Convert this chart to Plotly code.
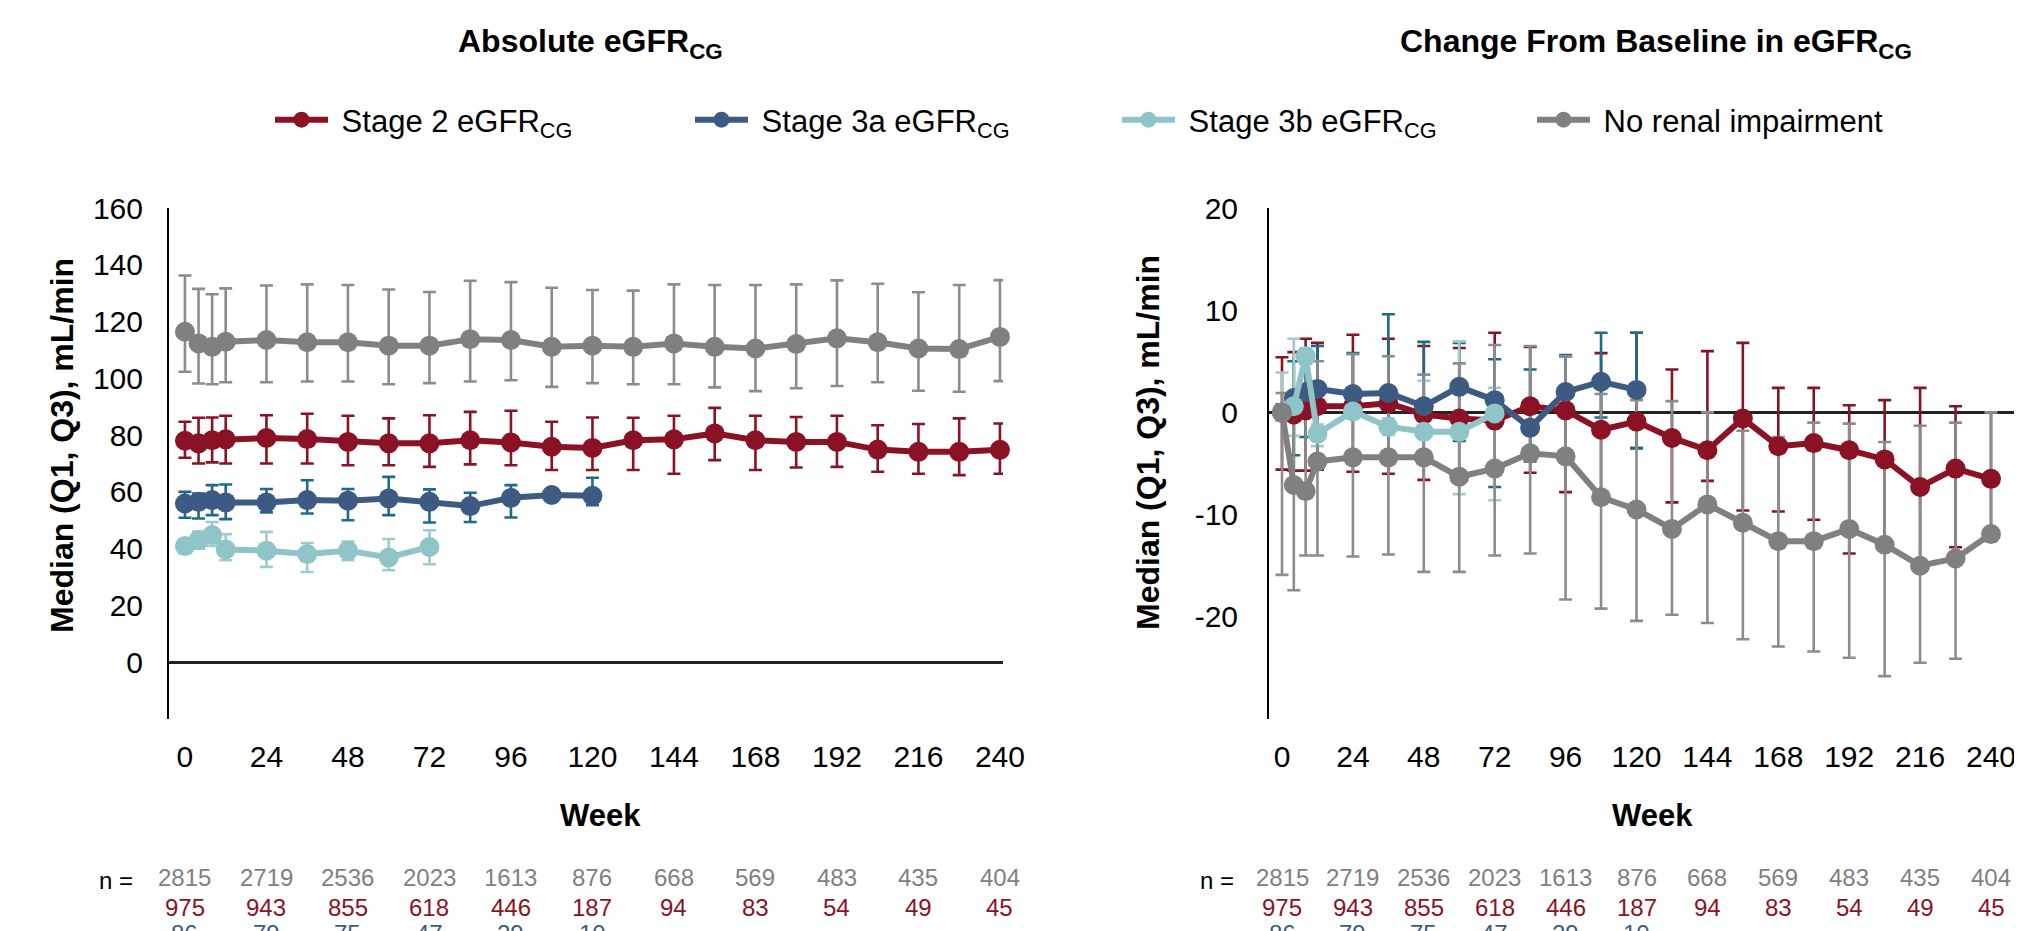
import plotly.graph_objects as go

W, H = 2022, 931
OFF = 8  # the page body has an 8px margin; positions below are in screen pixels

weeks = [0, 4, 8, 12, 24, 36, 48, 60, 72, 84, 96, 108, 120, 132, 144, 156, 168, 180, 192, 204, 216, 228, 240]
weeks_3a = weeks[:13]
weeks_3b = weeks[:9]
tick_weeks = [0, 24, 48, 72, 96, 120, 144, 168, 192, 216, 240]
abs_ticks = [0, 20, 40, 60, 80, 100, 120, 140, 160]
chg_ticks = [-20, -10, 0, 10, 20]

# Absolute eGFR_CG (median, Q1, Q3)
abs_s2_med = [78.0, 77.1, 78.2, 78.5, 79.0, 78.6, 77.6, 77.1, 77.1, 78.2, 77.4, 75.9, 75.5, 78.2, 78.5, 80.6, 78.2, 77.6, 77.6, 74.9, 74.1, 74.1, 74.8]
abs_s2_q1 = [72.0, 70.0, 70.4, 70.0, 70.0, 70.0, 69.4, 69.4, 68.8, 69.7, 69.4, 67.7, 67.7, 67.7, 66.4, 71.2, 67.7, 68.6, 68.8, 67.1, 66.4, 65.9, 66.4]
abs_s2_q3 = [84.7, 86.1, 86.2, 86.8, 87.0, 87.5, 86.8, 85.9, 87.0, 88.2, 88.6, 84.7, 86.2, 86.1, 86.8, 89.6, 86.8, 86.4, 86.8, 83.5, 83.9, 85.9, 84.1]

abs_3a_med = [55.9, 56.5, 57.1, 56.3, 56.3, 57.1, 56.9, 57.7, 56.5, 55.0, 57.9, 58.9, 58.6]
abs_3a_q1 = [50.9, 50.6, 51.8, 50.4, 52.8, 52.4, 50.0, 51.8, 49.2, 49.4, 51.0, 57.0, 55.3]
abs_3a_q3 = [60.0, 59.4, 62.4, 62.6, 61.0, 64.1, 61.0, 65.3, 60.9, 59.7, 62.4, 60.8, 65.0]

abs_3b_med = [40.9, 43.0, 44.8, 39.7, 39.3, 38.1, 39.3, 36.9, 40.6]
abs_3b_q1 = [38.5, 40.0, 41.0, 35.9, 33.6, 31.8, 35.9, 32.4, 34.5]
abs_3b_q3 = [43.0, 46.0, 49.4, 45.1, 45.9, 42.0, 42.5, 43.4, 46.5]

abs_no_med = [116.4, 112.3, 111.1, 112.9, 113.5, 112.7, 112.7, 111.5, 111.5, 113.8, 113.5, 111.1, 111.5, 111.1, 112.3, 111.1, 110.5, 112.1, 114.1, 112.7, 110.5, 110.3, 114.6]
abs_no_q1 = [102.3, 98.2, 97.9, 98.6, 98.6, 98.9, 98.9, 97.9, 98.3, 98.9, 99.3, 97.0, 98.3, 97.9, 97.9, 96.8, 95.5, 96.5, 97.3, 98.6, 95.6, 95.3, 99.0]
abs_no_q3 = [136.2, 131.5, 129.6, 131.7, 132.7, 133.1, 132.9, 131.3, 130.4, 134.4, 133.9, 131.9, 131.1, 130.9, 133.1, 132.9, 132.9, 133.1, 134.5, 133.3, 130.3, 132.9, 134.6]

# Change from baseline in eGFR_CG (median, Q1, Q3)
chg_s2_med = [0.0, -0.2, 0.2, 0.6, 0.6, 0.9, -0.2, -0.6, -0.8, 0.6, 0.2, -1.7, -0.9, -2.5, -3.7, -0.6, -3.3, -3.0, -3.7, -4.6, -7.3, -5.5, -6.5]
chg_s2_q1 = [-5.6, -5.7, -5.7, -5.6, -5.8, -6.0, -6.6, -6.3, -5.5, -5.9, -7.8, -8.8, -3.5, -8.8, -6.7, -9.6, -9.7, -10.5, -13.8, -12.9, -14.9, -13.2, -11.9]
chg_s2_q3 = [5.4, 5.9, 7.2, 6.8, 7.6, 7.2, 6.5, 6.3, 7.8, 6.4, 5.5, 5.8, 7.8, 4.2, 6.0, 6.8, 2.4, 2.4, 0.7, 1.2, 2.4, 0.6, 0.0]

chg_3a_med = [0.0, 1.4, 2.0, 2.3, 1.8, 1.9, 0.6, 2.5, 1.2, -1.5, 2.0, 3.0, 2.2]
chg_3a_q1 = [-0.8, -4.2, -2.4, -2.1, 0.0, -1.4, -1.9, -2.8, -7.3, -4.8, 0.2, -0.5, -3.5]
chg_3a_q3 = [0.8, 5.0, 6.2, 6.5, 5.8, 9.6, 6.9, 6.8, 5.2, 4.2, 5.6, 7.8, 7.8]

chg_3b_med = [0.0, 0.6, 5.5, -2.1, 0.1, -1.4, -1.9, -1.9, -0.1]
chg_3b_q1 = [-0.8, -2.3, 4.8, -3.3, -0.6, -2.2, -4.4, -8.0, -8.6]
chg_3b_q3 = [3.9, 7.2, 6.2, -1.2, 0.8, -0.6, 3.1, 6.95, 2.4]

chg_no_med = [0.0, -7.1, -7.7, -4.8, -4.4, -4.4, -4.4, -6.3, -5.5, -4.0, -4.3, -8.3, -9.5, -11.4, -9.0, -10.8, -12.6, -12.6, -11.4, -12.95, -15.0, -14.3, -11.9]
chg_no_q1 = [-15.9, -17.4, -14.0, -14.0, -14.1, -13.9, -15.6, -15.6, -14.0, -13.8, -18.3, -19.2, -20.4, -19.8, -20.6, -22.2, -22.9, -23.4, -24.0, -25.8, -24.5, -24.1, -12.6]
chg_no_q3 = [1.9, 1.5, 4.8, 5.0, 5.7, 5.5, 3.7, 4.8, 6.6, 6.5, 5.5, 1.8, 1.2, 1.1, 0.0, -1.8, -2.4, -1.0, -1.1, -2.9, -1.3, -1.0, 0.0]

# n at risk
n_none = ["2815", "2719", "2536", "2023", "1613", "876", "668", "569", "483", "435", "404"]
n_stage2 = ["975", "943", "855", "618", "446", "187", "94", "83", "54", "49", "45"]
n_stage3a = ["86", "79", "75", "47", "29", "10"]

names = ["\u00a0Stage 2 eGFR<sub>CG</sub>", "\u00a0Stage 3a eGFR<sub>CG</sub>",
         "\u00a0Stage 3b eGFR<sub>CG</sub>", "\u00a0No renal impairment"]
line_colors = ["#8B1224", "#3C5A82", "#8FC4C8", "#808080"]
bar_colors = ["#8B1224", "#1D6A8C", "#9FCBCE", "#8C8C8C"]
legend_ids = ["legend", "legend2", "legend3", "legend4"]
legend_text_px = [341, 761, 1188, 1603]

FONT = "Liberation Sans, Arial, sans-serif"

fig = go.Figure()

abs_series = [
    (weeks, abs_s2_med, abs_s2_q1, abs_s2_q3),
    (weeks_3a, abs_3a_med, abs_3a_q1, abs_3a_q3),
    (weeks_3b, abs_3b_med, abs_3b_q1, abs_3b_q3),
    (weeks, abs_no_med, abs_no_q1, abs_no_q3),
]
chg_series = [
    (weeks, chg_s2_med, chg_s2_q1, chg_s2_q3),
    (weeks_3a, chg_3a_med, chg_3a_q1, chg_3a_q3),
    (weeks_3b, chg_3b_med, chg_3b_q1, chg_3b_q3),
    (weeks, chg_no_med, chg_no_q1, chg_no_q3),
]

for panel, (series, xa, ya) in enumerate([(abs_series, "x", "y"), (chg_series, "x2", "y2")]):
    # error bars first (under all lines/markers)
    for i, (xs, med, q1, q3) in enumerate(series):
        fig.add_trace(go.Scatter(
            x=xs, y=med, mode="markers", xaxis=xa, yaxis=ya,
            marker=dict(size=1, color="rgba(0,0,0,0)"),
            error_y=dict(type="data", symmetric=False,
                         array=[b - a for a, b in zip(med, q3)],
                         arrayminus=[a - b for a, b in zip(med, q1)],
                         color=bar_colors[i], thickness=2.6, width=6.5),
            showlegend=False, hoverinfo="skip", cliponaxis=False))
    for i, (xs, med, q1, q3) in enumerate(series):
        fig.add_trace(go.Scatter(
            x=xs, y=med, mode="lines+markers", xaxis=xa, yaxis=ya,
            name=names[i], legend=legend_ids[i],
            line=dict(color=line_colors[i], width=6),
            marker=dict(size=20, color=line_colors[i]),
            showlegend=(panel == 0), cliponaxis=False))


def px_x(p):
    return (p - OFF) / W


def px_y(p):
    return (H - (p - OFF)) / H


ydom = [px_y(719), px_y(208)]
tickfont = dict(family=FONT, size=30, color="black")

layout = dict(
    width=W, height=H,
    margin=dict(l=0, r=0, t=0, b=0, autoexpand=False),
    paper_bgcolor="white", plot_bgcolor="white",
    font=dict(family=FONT, color="black"),
    showlegend=True,
    xaxis=dict(domain=[px_x(169), px_x(1003)], range=[-4.7, 240.9], automargin=False,
               tickvals=tick_weeks, ticktext=[str(w) for w in tick_weeks],
               showgrid=False, zeroline=False, showline=False, ticks="",
               tickfont=tickfont, ticklabelstandoff=17),
    yaxis=dict(domain=ydom, range=[-20, 160], tickvals=abs_ticks, ticktext=[str(v) for v in abs_ticks],
               automargin=False,
               showgrid=False, zeroline=True, zerolinecolor="#222", zerolinewidth=2.5,
               showline=True, linecolor="black", linewidth=2, ticks="",
               tickfont=tickfont, ticklabelstandoff=18),
    xaxis2=dict(domain=[px_x(1269), 1.0], range=[-4.4, 253.2], anchor="y2", automargin=False,
                tickvals=tick_weeks, ticktext=[str(w) for w in tick_weeks],
                showgrid=False, zeroline=False, showline=False, ticks="",
                tickfont=tickfont, ticklabelstandoff=17),
    yaxis2=dict(domain=ydom, range=[-30, 20], tickvals=chg_ticks, ticktext=[str(v) for v in chg_ticks],
                anchor="x2", automargin=False,
                showgrid=False, zeroline=True, zerolinecolor="#222", zerolinewidth=2.5,
                showline=True, linecolor="black", linewidth=2, ticks="",
                tickfont=tickfont, ticklabelstandoff=23),
)
for lid, tx in zip(legend_ids, legend_text_px):
    layout[lid] = dict(orientation="h", x=px_x(tx - 79 + OFF), y=px_y(120), xanchor="left", yanchor="middle",
                       font=dict(family=FONT, size=31, color="black"), itemwidth=53,
                       bgcolor="rgba(0,0,0,0)", borderwidth=0)
fig.update_layout(**layout)

ann = []


def add_text(text, x, y, size, color="black", xref="paper", angle=0, xanchor="center"):
    ann.append(dict(text=text, x=x, y=y, xref=xref, yref="paper", showarrow=False,
                    font=dict(family=FONT, size=size, color=color), textangle=angle,
                    xanchor=xanchor, yanchor="middle"))


add_text("<b>Absolute eGFR<sub>CG</sub></b>", px_x(590), px_y(43), 32)
add_text("<b>Change From Baseline in eGFR<sub>CG</sub></b>", px_x(1656), px_y(43), 32)
add_text("<b>Week</b>", px_x(600), px_y(815), 31)
add_text("<b>Week</b>", px_x(1652), px_y(815), 31)
add_text("<b>Median (Q1, Q3), mL/min</b>", px_x(62), px_y(446), 32, angle=-90)
add_text("<b>Median (Q1, Q3), mL/min</b>", px_x(1148), px_y(443), 32, angle=-90)

for xref, nx in [("x", 116), ("x2", 1217)]:
    add_text("n =", px_x(nx), px_y(880), 24)
    for w, t in zip(tick_weeks, n_none):
        add_text(t, w, px_y(877), 24, color="#808080", xref=xref)
    for w, t in zip(tick_weeks, n_stage2):
        add_text(t, w, px_y(907), 24, color="#8B1224", xref=xref)
    for w, t in zip(tick_weeks, n_stage3a):
        add_text(t, w, px_y(933), 24, color="#3C5A82", xref=xref)

fig.update_layout(annotations=ann)

fig.write_html("out.html")
